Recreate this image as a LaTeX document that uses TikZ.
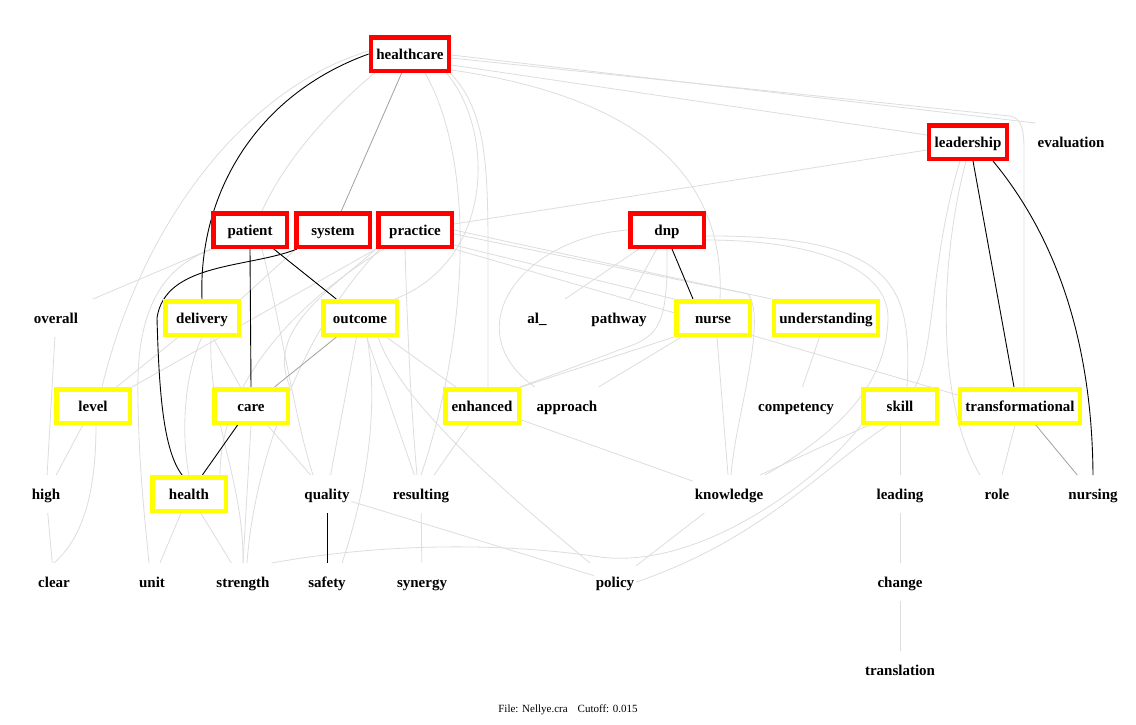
\documentclass[tikz,border=0pt]{standalone}
\usepackage{fontspec}
\setmainfont{Liberation Serif}
\pgfdeclarelayer{bg}
\pgfsetlayers{bg,main}
\definecolor{lg}{RGB}{221,221,221}
\definecolor{mg}{RGB}{160,160,160}
\definecolor{boxred}{RGB}{255,0,0}
\definecolor{boxyel}{RGB}{255,255,0}
\tikzset{
  word/.style={font=\bfseries\fontsize{15}{17}\selectfont, text height=14.5pt, text depth=3pt, inner xsep=2pt, inner ysep=0pt, minimum height=38pt, outer sep=0pt},
  redbox/.style={word, draw=boxred, fill=white, line width=4.5pt, inner xsep=5.5pt, minimum height=33.5pt, minimum width=73.5pt, outer sep=2.25pt},
  yelbox/.style={redbox, draw=boxyel},
  lite/.style={draw=lg, line width=0.8pt},
  midg/.style={draw=mg, line width=0.8pt},
  strong/.style={draw=black, line width=0.9pt},
  foot/.style={font=\fontsize{11}{13}\selectfont, inner sep=0pt}
}
\begin{document}
\begin{tikzpicture}[x=1pt,y=-1pt]
\useasboundingbox (0,0) rectangle (1136,724);
% nodes
\node[redbox] (hc) at (410,54) {healthcare};
\node[redbox] (lead) at (968,142) {leadership};
\node[word] (eval) at (1071,142) {evaluation};
\node[redbox] (pat) at (250,230) {patient};
\node[redbox] (sys) at (333,230) {system};
\node[redbox] (prac) at (415,230) {practice};
\node[redbox] (dnp) at (667,230) {dnp};
\node[word] (overall) at (56,318) {overall};
\node[yelbox] (deliv) at (202,318) {delivery};
\node[yelbox] (outc) at (360,318) {outcome};
\node[word, minimum width=60pt] (al) at (537,318) {al\_};
\node[word] (pathway) at (619,318) {pathway};
\node[yelbox] (nurse) at (713,318) {nurse};
\node[yelbox] (under) at (826,318) {understanding};
\node[yelbox] (level) at (93,406) {level};
\node[yelbox] (care) at (251,406) {care};
\node[yelbox] (enh) at (482,406) {enhanced};
\node[word] (appr) at (567,406) {approach};
\node[word] (comp) at (796,406) {competency};
\node[yelbox] (skill) at (900,406) {skill};
\node[yelbox] (trans) at (1020,406) {transformational};
\node[word] (high) at (46,494) {high};
\node[yelbox] (health) at (189,494) {health};
\node[word] (quality) at (327,494) {quality};
\node[word] (resulting) at (421,494) {resulting};
\node[word] (know) at (729,494) {knowledge};
\node[word] (leading) at (900,494) {leading};
\node[word] (role) at (997,494) {role};
\node[word] (nursing) at (1093,494) {nursing};
\node[word] (clear) at (54,582) {clear};
\node[word] (unit) at (152,582) {unit};
\node[word] (strength) at (243,582) {strength};
\node[word] (safety) at (327,582) {safety};
\node[word] (synergy) at (422,582) {synergy};
\node[word] (policy) at (615,582) {policy};
\node[word] (change) at (900,582) {change};
\node[word] (transl) at (900,670) {translation};
\node[foot] (footer) at (568,710) {File: Nellye.cra\hspace{10pt}Cutoff: 0.015};
\begin{pgfonlayer}{bg}
\fill[white] (0,0) rectangle (1136,724);
% light edges
\draw[lite] ([yshift=3pt]hc.west) .. controls (240,90) and (140,230) .. ([xshift=9pt]level.north);
\draw[lite] ([xshift=6pt]hc.south west) .. controls (330,110) and (285,160) .. ([xshift=12pt]pat.north);
\draw[lite] ([yshift=-1pt]hc.east) -- (eval.north west);
\draw[lite] ([yshift=-11pt]hc.east) -- ([yshift=7pt]lead.west);
\draw[lite] ([yshift=-4pt]hc.east) -- (1010,116) .. controls (1021,118) and (1024,128) .. (1024,150) -- ([xshift=4pt]trans.north);
\draw[lite] ([yshift=-16pt]hc.east) .. controls (660,100) and (725,190) .. ([xshift=7pt]nurse.north);
\draw[lite] ([xshift=-5pt]hc.south east) .. controls (495,130) and (495,260) .. ([xshift=-4pt]outc.north east);
\draw[lite] ([xshift=-1pt]hc.south east) .. controls (485,110) and (488,160) .. (488,250) -- ([xshift=6pt]enh.north);
\draw[lite] ([xshift=15pt]hc.south) .. controls (475,160) and (470,330) .. (resulting.north);
\draw[lite] ([yshift=-8pt]lead.west) -- ([yshift=6pt]prac.east);
\draw[lite] ([xshift=-8pt]lead.south) .. controls (930,260) and (935,350) .. ([xshift=15pt]skill.north);
\draw[lite] ([xshift=-2pt]lead.south) .. controls (940,260) and (935,400) .. ([xshift=-17pt]role.north);
\draw[lite] (trans) -- (role);
\draw[lite] (pat.south west) -- ([xshift=37pt]overall.north);
\draw[lite] ([xshift=2pt]pat.south west) .. controls (150,270) and (136,330) .. (138,400) .. controls (139,470) and (145,520) .. ([xshift=-3pt]unit.north);
\draw[lite] ([xshift=12pt]pat.south) .. controls (280,320) and (295,420) .. ([xshift=-14pt]quality.north);
\draw[lite] ([xshift=2pt]sys.south west) -- (deliv.north east);
\draw[lite] (prac.south west) -- (level.north east);
\draw[lite] (prac.south west) .. controls (330,290) and (265,330) .. (care.north east);
\draw[lite] ([xshift=4pt]prac.south west) .. controls (310,320) and (255,450) .. ([xshift=4pt]strength.north);
\draw[lite] ([xshift=8pt]prac.south west) .. controls (300,300) and (220,380) .. ([xshift=-8pt]health.north east);
\draw[lite] ([xshift=-10pt]prac.south) .. controls (408,350) and (412,420) .. ([xshift=-4pt]resulting.north);
\draw[lite] (prac.east) -- (under.north west);
\draw[lite] (prac.south east) -- ([yshift=11pt]trans.west);
\draw[lite] ([yshift=4pt]prac.south east) -- (nurse.north west);
\draw[lite] ([yshift=-4pt]prac.east) -- (748,294) .. controls (768,320) and (735,420) .. ([xshift=2pt]know.north);
\draw[lite] (dnp) -- (al);
\draw[lite] (dnp) -- (pathway);
\draw[lite] (dnp.south) .. controls (668,320) and (660,335) .. (630,346) -- ([xshift=-1pt]enh.north east);
\draw[lite] (dnp.west) .. controls (520,238) and (455,330) .. (appr.north west);
\draw[lite] ([yshift=-10pt]dnp.east) .. controls (820,240) and (890,270) .. (888,320) .. controls (886,370) and (860,420) .. (know.north east);
\draw[lite] ([yshift=-6pt]dnp.east) .. controls (900,235) and (912,290) .. ([xshift=7pt]skill.north);
\draw[lite] (nurse.south west) -- (enh.north east);
\draw[lite] (nurse) -- (appr);
\draw[lite] ([xshift=4pt]nurse.south) -- ([xshift=-1pt]know.north);
\draw[lite] (under) -- (comp);
\draw[lite] ([xshift=8pt]skill.south west) -- ([xshift=-5pt]know.north east);
\draw[lite] ([xshift=-12pt]skill.south) .. controls (820,470) and (760,540) .. (policy.east);
\draw[lite] (strength.north east) .. controls (400,540) and (520,545) .. (600,557) .. controls (700,570) and (820,480) .. (skill.south west);
\draw[lite] (skill) -- (leading);
\draw[lite] (leading) -- (change);
\draw[lite] (change) -- (transl);
\draw[lite] (enh) -- (know);
\draw[lite] (enh) -- (resulting);
\draw[lite] (know) -- (policy);
\draw[lite] (quality) -- (policy);
\draw[lite] ([xshift=18pt]outc.south) .. controls (400,400) and (490,480) .. ([xshift=-25pt]policy.north);
\draw[lite] (outc) -- (quality);
\draw[lite] ([xshift=7pt]outc.south) .. controls (378,400) and (370,480) .. ([xshift=15pt]safety.north);
\draw[lite] (outc) -- (resulting);
\draw[lite] (outc) -- (enh);
\draw[lite] (care) -- (quality);
\draw[lite] (care.south) -- (strength.north);
\draw[lite] (health) -- (unit);
\draw[lite] (health) -- (strength);
\draw[lite] (deliv) -- (level);
\draw[lite] (deliv.south) .. controls (182,380) and (182,440) .. (health.north);
\draw[lite] (deliv) -- (care);
\draw[lite] ([xshift=9pt]deliv.south) .. controls (208,420) and (244,480) .. (strength.north);
\draw[lite] (level) -- (high);
\draw[lite] ([xshift=3pt]level.south) .. controls (96,500) and (80,540) .. (clear.north);
\draw[lite] (overall) -- (high);
\draw[lite] (high) -- (clear);
\draw[lite] (resulting) -- (synergy);
% medium and strong edges
\draw[midg] (hc) -- (sys);
\draw[midg] (outc) -- (care);
\draw[midg] (trans) -- (nursing);
\draw[strong] (hc.west) .. controls (255,95) and (198,195) .. (deliv.north);
\draw[strong] (pat.south) -- (care.north);
\draw[strong] (pat) -- (outc);
\draw[strong] ([xshift=3pt]sys.south west) .. controls (250,268) and (165,262) .. (157,318) .. controls (159,390) and (163,450) .. (health.110);
\draw[strong] (care) -- (health);
\draw[strong] ([xshift=5pt]dnp.south) -- ([xshift=-20pt]nurse.north);
\draw[strong] ([xshift=5pt]lead.south) -- ([xshift=-6pt]trans.north);
\draw[strong] ([xshift=25pt]lead.south) .. controls (1050,230) and (1092,330) .. (nursing.north);
\draw[strong] (quality) -- (safety);
\end{pgfonlayer}
\end{tikzpicture}
\end{document}
